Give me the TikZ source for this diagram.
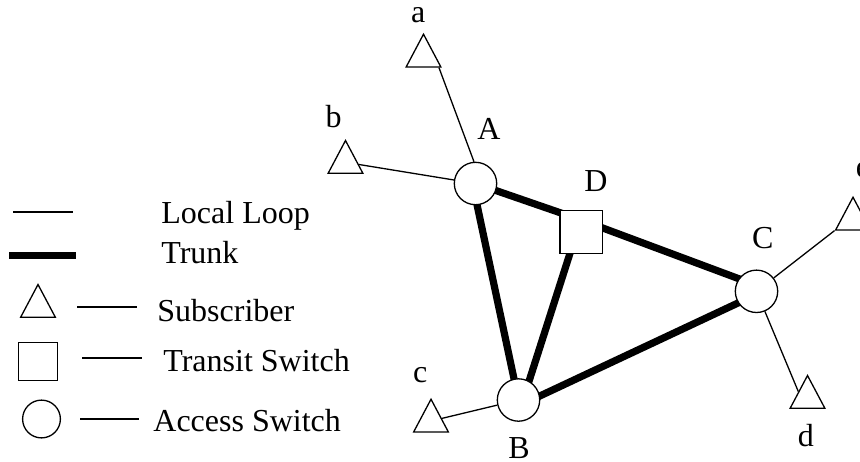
\documentclass[tikz,border=0pt]{standalone}
\usepackage{fontspec}
\setmainfont{Liberation Serif}
\usetikzlibrary{shapes.geometric,calc,backgrounds}
\begin{document}
\begin{tikzpicture}[x=0.5pt,y=-0.5pt,
  thinline/.style={line width=0.65pt},
  trunkline/.style={line width=3.6pt},
  sub/.style={regular polygon, regular polygon sides=3, draw, fill=white, line width=0.65pt, minimum size=20pt, inner sep=0pt, yscale=1.09},
  acc/.style={circle, draw, fill=white, line width=0.65pt, minimum size=21.2pt, inner sep=0pt},
  tra/.style={rectangle, draw, fill=white, line width=0.65pt, minimum size=21.3pt, inner sep=0pt},
  lbl/.style={font=\fontsize{16}{19}\selectfont, inner sep=0pt, anchor=base},
  leg/.style={font=\fontsize{16}{19}\selectfont, inner sep=0pt, anchor=base west}]
\useasboundingbox (0,0) rectangle (860,461);
% switches
\node[acc] (A) at (475.5,183.5) {};
\node[acc] (B) at (518.5,400) {};
\node[acc] (C) at (756.5,291.3) {};
\node[tra] (D) at (581.3,232) {};
% subscribers
\node[sub] (a) at (423.5,56) {};
\node[sub] (b) at (345.5,162.3) {};
\node[sub] (c) at (431,421) {};
\node[sub] (d) at (807.5,397.3) {};
\node[sub] (e) at (853,219) {};
% labels
\node[lbl] (la) at (418.3,22.7) {a};
\node[lbl] (lb) at (333.7,127.7) {b};
\node[lbl] (lA) at (489,139.3) {A};
\node[lbl] (lD) at (596,191.7) {D};
\node[lbl] (lC) at (762.8,248.3) {C};
\node[lbl] (lc) at (420.3,382.7) {c};
\node[lbl] (lB) at (519,458.3) {B};
\node[lbl] (ld) at (805.8,446) {d};
\node[lbl] (le) at (863,177) {e};
\begin{scope}[on background layer]
  % trunks
  \draw[trunkline] (A.center) -- ($(D.center)+(0,-12)$) -- ($(C.center)+(0,-6)$);
  \draw[trunkline] ($(A.center)+(-3,0)$) -- (B.center);
  \draw[trunkline] ($(D.center)+(-4.5,0)$) -- ($(B.center)+(4.5,0)$);
  \draw[trunkline] ($(B.center)+(0,6)$) -- ($(C.center)+(0,3)$);
  % local loops
  \draw[thinline] ($(a.corner 3)+(-3,0)$) -- (A.94);
  \draw[thinline] (b) -- (A);
  \draw[thinline] (c) -- (B);
  \draw[thinline] (C) -- (e.corner 2);
  \draw[thinline] (C) -- ($(d.corner 1)!0.5!(d.corner 2)$);
\end{scope}
% legend
\coordinate (l1s) at (13,212); \coordinate (l1e) at (73,212);
\draw[thinline] (l1s) -- (l1e);
\node[leg] (tLL) at (161,223.3) {Local Loop};
\coordinate (l2s) at (9,255.5); \coordinate (l2e) at (76,255.5);
\draw[line width=3.8pt] (l2s) -- (l2e);
\node[leg] (tTr) at (161,263.3) {Trunk};
\node[sub] (ls) at (38,306.3) {};
\coordinate (l3s) at (77,307); \coordinate (l3e) at (137,307);
\draw[thinline] (l3s) -- (l3e);
\node[leg] (tSu) at (157,321.7) {Subscriber};
\node[tra, minimum width=19.4pt, minimum height=18.9pt] (lt) at (38,361.5) {};
\coordinate (l4s) at (82,358); \coordinate (l4e) at (142,358);
\draw[thinline] (l4s) -- (l4e);
\node[leg] (tTS) at (163,371.7) {Transit Switch};
\node[acc, minimum size=18.9pt] (lc2) at (41.5,419) {};
\coordinate (l5s) at (80,419); \coordinate (l5e) at (139,419);
\draw[thinline] (l5s) -- (l5e);
\node[leg] (tAS) at (153,431.7) {Access Switch};
\end{tikzpicture}
\end{document}
